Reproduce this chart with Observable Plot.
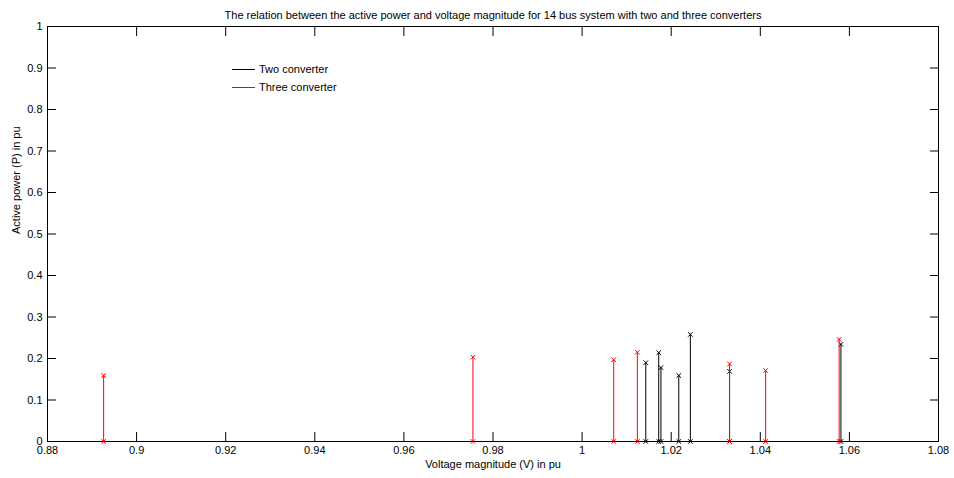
<!DOCTYPE html>
<html><head><meta charset="utf-8">
<script src="https://cdn.jsdelivr.net/npm/d3@7"></script>
<script src="https://cdn.jsdelivr.net/npm/@observablehq/plot@0.6"></script>
<style>body{margin:0;background:#fff} #chart{width:954px;height:478px}</style>
</head><body><div id="chart"></div>
<script>
const title = "The relation between the active power and voltage magnitude for 14 bus system with two and three converters";
const xLabel = "Voltage magnitude (V) in pu";
const yLabel = "Active power (P) in pu";
const xTicks = [0.88, 0.9, 0.92, 0.94, 0.96, 0.98, 1, 1.02, 1.04, 1.06, 1.08];
const yTicks = [0, 0.1, 0.2, 0.3, 0.4, 0.5, 0.6, 0.7, 0.8, 0.9, 1];
const seriesNames = ["Two converter", "Three converter"];
const seriesColors = ["#000000", "#ff0000"];
const twoV = [1.0143, 1.0172, 1.0177, 1.0217, 1.0243, 1.0331, 1.0581];
const twoP = [0.190, 0.214, 0.178, 0.159, 0.258, 0.169, 0.234];
const threeV = [0.8926, 0.9755, 1.0071, 1.0124, 1.0331, 1.0412, 1.0577];
const threeP = [0.159, 0.203, 0.197, 0.215, 0.187, 0.171, 0.246];

const two = twoV.map((v, i) => ({v, p: twoP[i]}));
const three = threeV.map((v, i) => ({v, p: threeP[i]}));
const font = "'Liberation Sans', Arial, sans-serif";
const fmt = d3.format("~g");
const blank = () => "";

function stems(data, color) {
  return [
    Plot.ruleX(data, {x: "v", y1: 0, y2: "p", stroke: color, strokeWidth: 1}),
    Plot.dot(data, {x: "v", y: "p", symbol: "times", r: 2.2, stroke: color, strokeWidth: 1}),
    Plot.dot(data, {x: "v", y: 0, symbol: "times", r: 2.2, stroke: color, strokeWidth: 1})
  ];
}

const chart = Plot.plot({
  width: 954, height: 478,
  marginLeft: 47, marginRight: 16, marginTop: 26, marginBottom: 37,
  style: {fontFamily: font, fontSize: "11px", background: "#fff", color: "#000", overflow: "visible"},
  x: {domain: [0.88, 1.08]},
  y: {domain: [0, 1]},
  marks: [
    Plot.axisX(xTicks, {anchor: "bottom", tickSize: 0, tickPadding: 5, tickFormat: fmt, label: null, fontSize: 11}),
    Plot.axisX(xTicks, {anchor: "bottom", tickSize: -9, tickFormat: blank, label: null}),
    Plot.axisX(xTicks, {anchor: "top", tickSize: -9, tickFormat: blank, label: null}),
    Plot.axisY(yTicks, {anchor: "left", tickSize: 0, tickPadding: 5, tickFormat: fmt, label: null, fontSize: 11}),
    Plot.axisY(yTicks, {anchor: "left", tickSize: -9, tickFormat: blank, label: null}),
    Plot.axisY(yTicks, {anchor: "right", tickSize: -9, tickFormat: blank, label: null}),
    ...stems(two, seriesColors[0]),
    ...stems(three, seriesColors[1]),
    Plot.frame({stroke: "#000"}),
    Plot.text([title], {text: d => d, frameAnchor: "top", dy: -15, fontSize: 11, fill: "#000"}),
    Plot.text([xLabel], {text: d => d, frameAnchor: "bottom", dy: 26, fontSize: 11, fill: "#000"}),
    Plot.text([yLabel], {text: d => d, frameAnchor: "left", dx: -31, rotate: -90, fontSize: 11, fill: "#000"})
  ]
});

// legend (no box), inside the plot area
const svg = d3.select(chart);
const lg = svg.append("g").attr("font-family", font).attr("font-size", 11).attr("text-anchor", "start");
seriesNames.forEach((name, i) => {
  const y = 69 + i * 18;
  lg.append("line").attr("x1", 232).attr("x2", 255).attr("y1", y + 0.5).attr("y2", y + 0.5)
    .attr("stroke", seriesColors[i]).attr("stroke-width", 1);
  lg.append("text").attr("x", 259).attr("y", y).attr("dy", "0.35em").attr("fill", "#000")
    .attr("text-anchor", "start").text(name);
});

document.getElementById("chart").append(chart);
</script>
</body></html>
